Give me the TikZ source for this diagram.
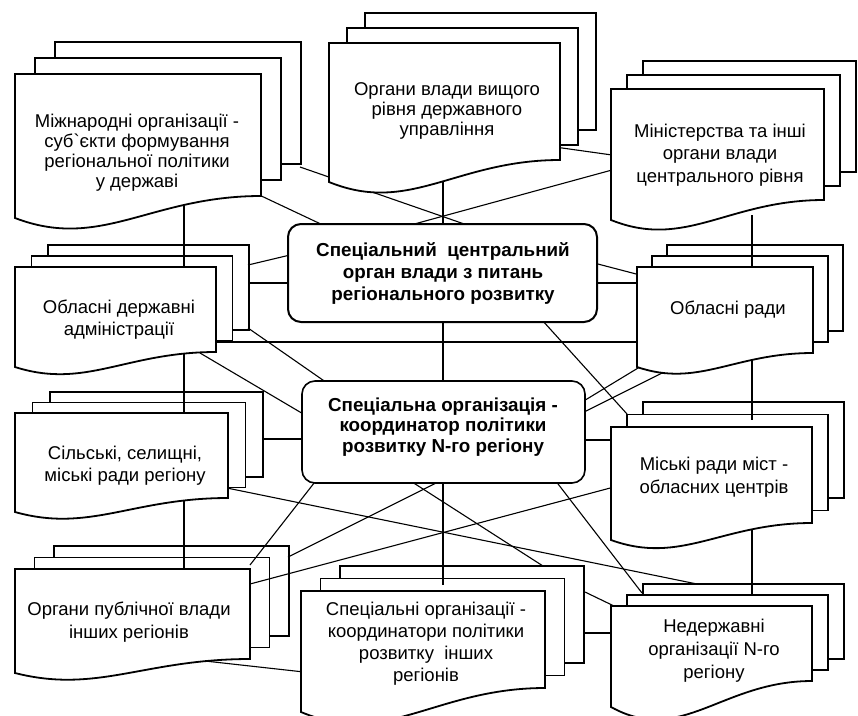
\documentclass[tikz,border=0pt]{standalone}
\usepackage{fontspec}
\setmainfont{Liberation Sans}
\newfontfamily\rfont{Liberation Sans}
\tikzset{
  docline/.style={line width=1.8pt, line join=miter},
  conn/.style={line width=1.1pt},
  txt/.style={align=center, inner sep=0pt},
  btxt/.style={align=center, inner sep=0pt},
  rbox/.style={draw, fill=white, rounded corners=13pt, inner sep=0pt},
}
\newcommand\docback[7]{%
  \filldraw[docline,fill=white] ({#1+2*(#6)},{#2+2*(#7)}) rectangle ({#3+2*(#6)},{#4+2*(#7)});
  \filldraw[docline,fill=white] ({#1+(#6)},{#2+(#7)}) rectangle ({#3+(#6)},{#4+(#7)});
}
\newcommand\docfront[5]{%
  \filldraw[docline,fill=white] (#1,#5) -- (#1,#2) -- (#3,#2) -- (#3,#4)
    .. controls ({#1+0.55*(#3-#1)},#4) and ({#1+0.35*(#3-#1)},{#5+1.5*(#5-#4)}) .. (#1,#5) -- cycle;
}
\newcommand\lnk[3]{\coordinate (#1a) at (#2); \coordinate (#1b) at (#3); \draw[conn] (#1a) -- (#1b);}
\begin{document}
\begin{tikzpicture}[x=1pt,y=-1pt]
\useasboundingbox (0,0) rectangle (858,715);
\fill[white] (0,0) rectangle (858,715);
% back copies
\docback{15}{74}{261}{196}{218}{20}{-16}
\docback{329}{43}{560}{160}{182}{18}{-15}
\docback{611}{89}{824}{200}{220}{16}{-14}
\docback{15}{267}{216}{352}{367}{16.5}{-11}
\docback{637}{267}{813}{353}{367}{15}{-11}
\docback{15}{413}{228}{498}{512}{17.5}{-10.5}
\docback{611}{427}{812}{523}{540}{16}{-12.5}
\docback{15}{569}{250}{659}{673}{19.5}{-11.5}
\docback{301}{591}{545}{688}{712}{19.5}{-12.5}
\docback{611}{606}{812}{681}{707}{16}{-11}
% connectors
\lnk{L1}{255,193}{325,226}
\lnk{L2}{300,167}{470,226}
\lnk{L3}{443,175}{443,226}
\lnk{L4}{555,147}{612,155}
\lnk{L5}{612,170}{407,226}
\lnk{L6}{184,200}{184,270}
\lnk{L7}{184,350}{184,416}
\lnk{L8}{184,500}{184,572}
\lnk{L9}{248,265}{290,255}
\lnk{L10}{248,283}{290,283}
\lnk{L11}{248,328}{330,385}
\lnk{L12}{200,353}{305,415}
\lnk{L13}{210,342}{640,342}
\lnk{L14}{443,320}{443,384}
\lnk{L15}{262,439}{305,439}
\lnk{L16}{594,263}{640,275}
\lnk{L17}{594,283}{640,283}
\lnk{L18}{752,215}{752,270}
\lnk{L19}{752,355}{752,420}
\lnk{L20}{752,530}{752,595}
\lnk{L21}{542,320}{627,414}
\lnk{L22}{643,365}{582,402}
\lnk{L23}{672,368}{582,413}
\lnk{L24}{582,440}{614,440}
\lnk{L25}{222,487}{697,584}
\lnk{L26}{318,478}{250,565}
\lnk{L27}{442,480}{288,557}
\lnk{L28}{614,487}{250,584}
\lnk{L29}{409,480}{543,566}
\lnk{L30}{443,480}{443,585}
\lnk{L31}{555,480}{642,593}
\lnk{L32}{585,592}{614,606}
\lnk{L33}{585,633}{614,633}
\lnk{L34}{205,661}{304,672}
% front documents
\docfront{15}{74}{261}{196}{218}
\docfront{329}{43}{560}{160}{182}
\docfront{611}{89}{824}{200}{220}
\docfront{15}{267}{216}{352}{367}
\docfront{637}{267}{813}{353}{367}
\docfront{15}{413}{228}{498}{512}
\docfront{611}{427}{812}{523}{540}
\docfront{15}{569}{250}{659}{673}
\docfront{301}{591}{545}{688}{712}
\docfront{611}{606}{812}{681}{707}
% central rounded boxes
\node[rbox, line width=2pt, minimum width=309pt, minimum height=98pt] (tc) at (442.5,273) {};
\node[rbox, line width=1.6pt, minimum width=283pt, minimum height=102pt] (lc) at (443.5,432) {};
% texts
\node[txt, font=\rfont\fontsize{18.5}{20}\selectfont] (tA) at (137,153) {Міжнародні організації -\\суб`єкти формування\\регіональної політики\\у державі};
\node[txt, font=\rfont\fontsize{18.5}{20}\selectfont] (tB) at (447,111) {Органи влади вищого\\рівня державного\\управління};
\node[txt, font=\rfont\fontsize{18.5}{22.5}\selectfont] (tC) at (720,155) {Міністерства та інші\\органи влади\\центрального рівня};
\node[btxt, font=\bfseries\fontsize{18.8}{22}\selectfont] (tT) at (443,273) {Спеціальний\ \ центральний\\орган влади з питань\\регіонального розвитку};
\node[txt, font=\rfont\fontsize{18.5}{22}\selectfont] (tD) at (119,320) {Обласні державні\\адміністрації};
\node[txt, font=\rfont\fontsize{18.5}{22}\selectfont] (tE) at (728,310) {Обласні ради};
\node[btxt, font=\bfseries\fontsize{18.8}{20.5}\selectfont] (tL) at (443,427) {Спеціальна організація -\\координатор політики\\розвитку N-го регіону};
\node[txt, font=\rfont\fontsize{18.5}{22}\selectfont] (tF) at (125,466) {Сільські, селищні,\\міські ради регіону};
\node[txt, font=\rfont\fontsize{18.5}{23}\selectfont] (tG) at (714,477) {Міські ради міст -\\обласних центрів};
\node[txt, font=\rfont\fontsize{18.5}{23}\selectfont] (tH) at (129,622) {Органи публічної влади\\інших регіонів};
\node[txt, font=\rfont\fontsize{18.5}{22}\selectfont] (tI) at (426,644) {Спеціальні організації -\\координатори політики\\розвитку\ \ інших\\регіонів};
\node[txt, font=\rfont\fontsize{18.5}{23}\selectfont] (tJ) at (714,651) {Недержавні\\організації N-го\\регіону};
\end{tikzpicture}
\end{document}
